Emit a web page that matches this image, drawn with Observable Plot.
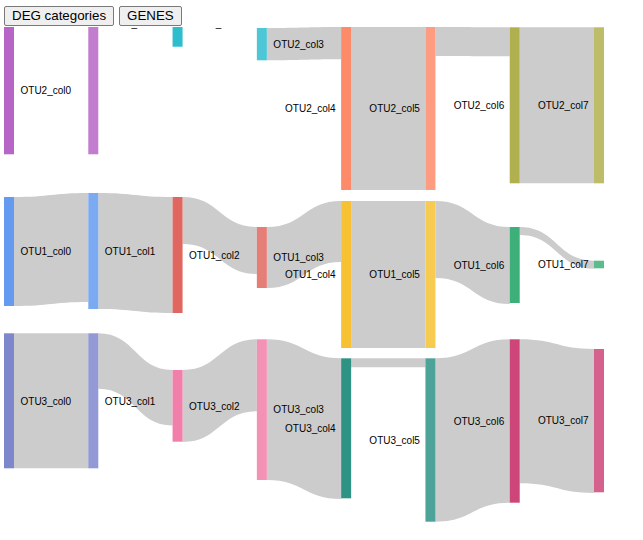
<!DOCTYPE html>
<html>
<head>
<meta charset="utf-8">
<script src="https://cdn.jsdelivr.net/npm/d3@7"></script>
<script src="https://cdn.jsdelivr.net/npm/@observablehq/plot@0.6"></script>
<style>
html, body { margin: 0; padding: 0; background: #fff; }
#bar { height: 27px; box-sizing: border-box; padding: 6px 0 0 4px; display: flex; gap: 5px; align-items: flex-start; }
#bar button { font: 13.333px "Liberation Sans", Arial, sans-serif; height: 20px; padding: 0 7px; border: 1px solid #7a7a7a; border-radius: 2px; background: #efefef; color: #000; box-sizing: border-box; line-height: 18px; }
</style>
</head>
<body>
<div id="bar"><button>DEG categories</button><button>GENES</button></div>
<div id="chart"></div>
<script>
// ---- data (gene counts; "start" = stacked offset of each node) ----
const otus = ["OTU1", "OTU2", "OTU3"];
const columns = ["col0", "col1", "col2", "col3", "col4", "col5", "col6", "col7"];

const otu1Start = [170, 166, 170, 200, 174, 174, 200, 233.7];
const otu1Size  = [109, 116, 116, 61, 147, 147, 76, 7.6];
const otu1Flow  = [109, 116, 47, 61, 147, 77, 8];

const otu2Start = [0, -134, -26.7, 1, 0, 0, 0.3, 0.3];
const otu2Size  = [127.3, 261.3, 46.4, 32.3, 163, 163, 156, 156];
const otu2Flow  = [0, 0, 0, 32.3, 163, 29, 156];

const otu3Start = [306.3, 306.3, 343, 312.3, 331.3, 331.3, 312.3, 322];
const otu3Size  = [135, 135, 71.7, 140.7, 140, 163.4, 163.4, 143.3];
const otu3Flow  = [135, 55.5, 72, 140.7, 9, 163.4, 144];

// palette: even columns use the base colour, odd columns a lighter tint
const otu1Palette = ["#649bf0", "#e0675f", "#f6c233", "#3daf78"];
const otu2Palette = ["#b766c7", "#2ebdcd", "#fd8a69", "#b1b04e"];
const otu3Palette = ["#7f87cc", "#f27fa9", "#2e9385", "#cd4579"];
const linkColor = "#cccccc";

// ---- build tables ----
const starts = [otu1Start, otu2Start, otu3Start];
const sizes = [otu1Size, otu2Size, otu3Size];
const flows = [otu1Flow, otu2Flow, otu3Flow];
const palettes = [otu1Palette, otu2Palette, otu3Palette];

const nodeWidthPx = 10;
const xRange = [4, 594];
const nodeW = nodeWidthPx * (columns.length - 1) / (xRange[1] - xRange[0]);

const nodes = [];
const colorDomain = [];
const colorRange = [];
otus.forEach((otu, k) => {
  columns.forEach((col, c) => {
    const name = `${otu}_${col}`;
    nodes.push({name, col: c, y0: starts[k][c], y1: starts[k][c] + sizes[k][c]});
    colorDomain.push(name);
    const base = palettes[k][Math.floor(c / 2)];
    colorRange.push(c % 2 === 0 ? base : d3.interpolateRgb(base, "#ffffff")(0.15));
  });
});

const linkPoints = [];
otus.forEach((otu, k) => {
  for (let c = 0; c < columns.length - 1; c++) {
    const v = flows[k][c];
    if (!v) continue;
    const id = `${otu}_${c}`;
    const s = starts[k][c], t = starts[k][c + 1];
    linkPoints.push({id, x: c + nodeW, top: s, bottom: s + v});
    linkPoints.push({id, x: c + 1, top: t, bottom: t + v});
  }
});

const half = (columns.length) / 2;
const leftNodes = nodes.filter(d => d.col < half);
const rightNodes = nodes.filter(d => d.col >= half);

const H = 513;
const chart = Plot.plot({
  width: 643,
  height: H,
  margin: 0,
  x: {domain: [0, columns.length - 1], range: xRange, axis: null},
  y: {domain: [0, H], range: [0, H], axis: null},
  color: {type: "ordinal", domain: colorDomain, range: colorRange},
  style: {overflow: "hidden", background: "#fff", fontFamily: "'Liberation Sans', Arial, sans-serif", fontSize: "10px"},
  marks: [
    Plot.area(linkPoints, {x1: "x", y1: "top", y2: "bottom", z: "id", curve: "bump-x", fill: linkColor}),
    Plot.rect(nodes, {x1: "col", x2: d => d.col + nodeW, y1: "y0", y2: "y1", fill: "name"}),
    Plot.text(leftNodes, {x: d => d.col + nodeW, y: d => (d.y0 + d.y1) / 2, text: "name", dx: 6, textAnchor: "start", fill: "#000", fontSize: 10}),
    Plot.text(rightNodes, {x: "col", y: d => (d.y0 + d.y1) / 2, text: "name", dx: -6, textAnchor: "end", fill: "#000", fontSize: 10})
  ]
});
document.getElementById("chart").appendChild(chart);
</script>
</body>
</html>
